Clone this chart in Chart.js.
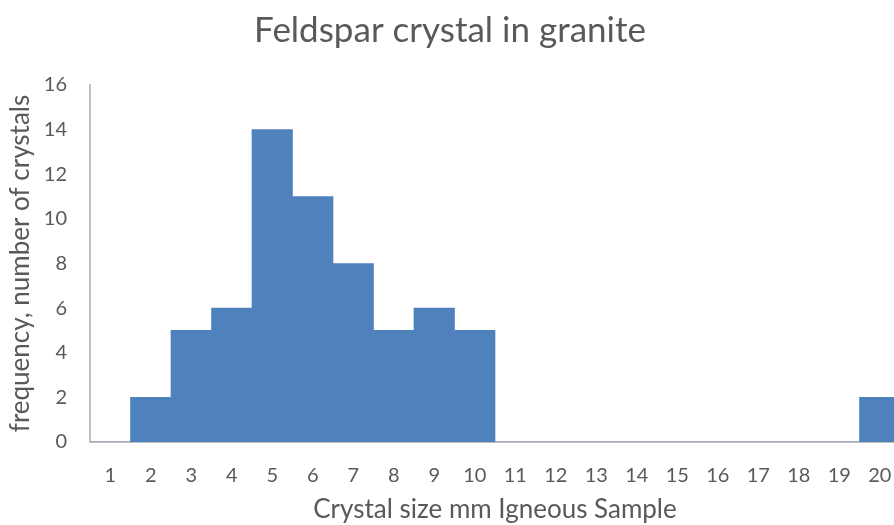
<!DOCTYPE html>
<html lang="en">
<head>
  <meta charset="UTF-8" />
  <title>Feldspar crystal in granite</title>
  <script src="https://cdn.jsdelivr.net/npm/chart.js"></script>
  <style>
    body {
      margin: 0;
      padding: 0;
      background-color: #ffffff;
      overflow: hidden;
    }
    .wrap {
      width: 894px;
      height: 525px;
      overflow: hidden;
    }
  </style>
</head>
<body>
  <div class="wrap">
    <canvas id="feldsparChart" width="910" height="525"></canvas>
  </div>

  <script>
    // crystal size categories (mm)
    const sizes = ['1', '2', '3', '4', '5', '6', '7', '8', '9', '10',
                   '11', '12', '13', '14', '15', '16', '17', '18', '19', '20'];
    // number of crystals per size
    const counts = [0, 2, 5, 6, 14, 11, 8, 5, 6, 5,
                    0, 0, 0, 0, 0, 0, 0, 0, 0, 2];
    const yTicks = [0, 2, 4, 6, 8, 10, 12, 14, 16];

    const textColor = '#595959';
    const axisColor = '#BFBFBF';
    const fontFamily = 'Lato, "Open Sans", sans-serif';

    const ctx = document.getElementById('feldsparChart').getContext('2d');
    const chart = new Chart(ctx, {
      type: 'bar',
      data: {
        labels: sizes,
        datasets: [{
          label: 'Frequency',
          data: counts,
          backgroundColor: '#4F81BD',
          borderWidth: 0,
          barPercentage: 1,
          categoryPercentage: 1
        }]
      },
      options: {
        responsive: false,
        animation: false,
        layout: {
          padding: { left: 0, right: 10, top: 0, bottom: 0 }
        },
        plugins: {
          legend: { display: false },
          tooltip: { enabled: false },
          title: {
            display: true,
            text: 'Feldspar crystal in granite',
            color: textColor,
            font: { family: fontFamily, size: 35, weight: 'normal' },
            padding: { top: 10, bottom: 33 }
          }
        },
        scales: {
          x: {
            grid: { display: false },
            border: { display: true, color: axisColor, width: 2 },
            ticks: {
              color: textColor,
              font: { family: fontFamily, size: 20 },
              padding: 14,
              maxRotation: 0,
              autoSkip: false
            },
            title: {
              display: true,
              text: 'Crystal size mm Igneous Sample',
              color: textColor,
              font: { family: fontFamily, size: 26 },
              padding: { top: 4, bottom: 0 }
            },
            afterFit: scale => { scale.height = 525 - 442; }
          },
          y: {
            min: 0,
            max: 16,
            afterBuildTicks: scale => {
              scale.ticks = yTicks.map(v => ({ value: v }));
            },
            grid: { display: false },
            border: { display: true, color: axisColor, width: 2 },
            ticks: {
              color: textColor,
              font: { family: fontFamily, size: 20 },
              padding: 15
            },
            title: {
              display: true,
              text: 'frequency, number of crystals',
              color: textColor,
              font: { family: fontFamily, size: 26 },
              padding: { top: 5, bottom: 0 }
            },
            afterFit: scale => { scale.width = 90; }
          }
        }
      }
    });
  </script>
</body>
</html>
